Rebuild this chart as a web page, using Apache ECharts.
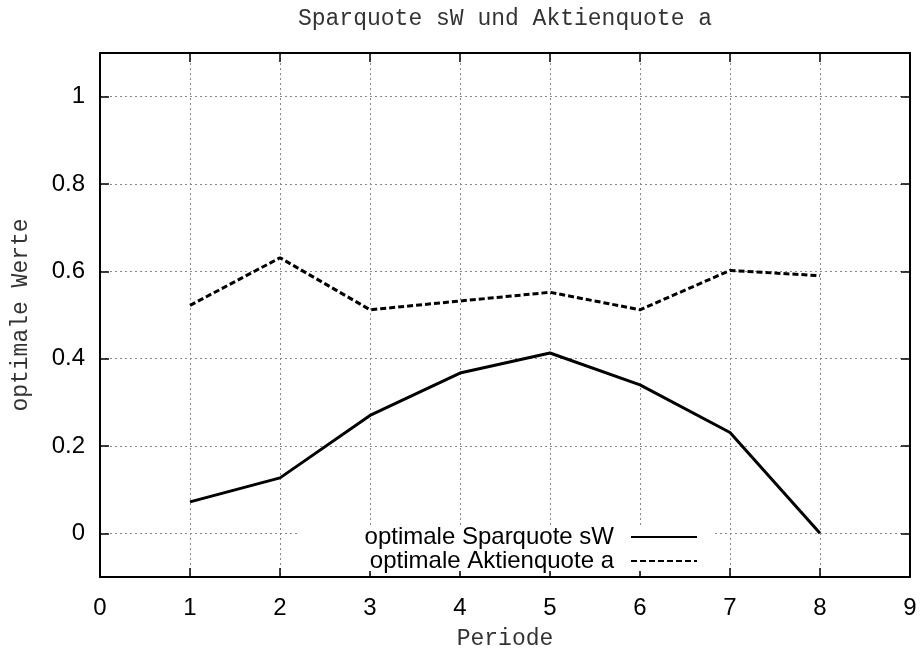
<!DOCTYPE html>
<html>
<head>
<meta charset="utf-8">
<script src="https://cdn.jsdelivr.net/npm/echarts@6/dist/echarts.min.js"></script>
<style>html,body{margin:0;padding:0;background:#fff}#c{width:924px;height:655px}</style>
</head>
<body>
<div id="c"></div>
<script>
var periods = [1, 2, 3, 4, 5, 6, 7, 8];
var sparquote = [0.072, 0.127, 0.27, 0.367, 0.413, 0.34, 0.231, 0.0];
var aktienquote = [0.522, 0.631, 0.512, 0.532, 0.552, 0.512, 0.602, 0.59];
var yTicks = [0, 0.2, 0.4, 0.6, 0.8, 1];
var titleText = 'Sparquote sW und Aktienquote a';
var xName = 'Periode';
var yName = 'optimale Werte';
var nameSW = 'optimale Sparquote sW';
var nameA = 'optimale Aktienquote a';

function pairs(xs, ys) { return xs.map(function (x, i) { return [x, ys[i]]; }); }

var chart = echarts.init(document.getElementById('c'), null, { renderer: 'canvas' });
var mono = 'Liberation Mono';
var sans = 'Liberation Sans';
var gridLine = { show: true, lineStyle: { color: '#888', width: 1, type: [2, 3] } };
var tickStyle = { show: true, inside: true, length: 9, lineStyle: { color: '#000', width: 1.5 } };
var axLine = { show: true, onZero: false, lineStyle: { color: '#000', width: 2 } };
var legendCommon = {
  right: 226, orient: 'vertical', align: 'right', padding: 0,
  itemWidth: 66, itemHeight: 12,
  itemStyle: { opacity: 0 },
  textStyle: { fontFamily: sans, fontSize: 24, color: '#000', padding: [0, 12, 0, 0] }
};

chart.setOption({
  animation: false,
  backgroundColor: '#fff',
  title: {
    text: titleText, left: 505, textAlign: 'center', top: 7, padding: 0,
    textStyle: { fontFamily: mono, fontSize: 23, fontWeight: 'normal', color: '#333' }
  },
  grid: { left: 100, right: 14, top: 53, bottom: 74, containLabel: false },
  xAxis: [{
    type: 'value', min: 0, max: 9, interval: 1, position: 'bottom',
    name: xName, nameLocation: 'middle', nameGap: 50,
    nameTextStyle: { fontFamily: mono, fontSize: 23, color: '#333' },
    axisLine: axLine, axisTick: tickStyle, splitLine: gridLine,
    axisLabel: { fontFamily: sans, fontSize: 24, color: '#000', margin: 19 }
  }, {
    type: 'value', min: 0, max: 9, interval: 1, position: 'top',
    axisLine: axLine, axisTick: tickStyle, splitLine: { show: false },
    axisLabel: { show: false }
  }],
  yAxis: [{
    type: 'value', min: -0.1, max: 1.1, position: 'left',
    name: yName, nameLocation: 'middle', nameGap: 68, nameRotate: 90,
    nameTextStyle: { fontFamily: mono, fontSize: 23, color: '#333' },
    axisLine: axLine,
    axisTick: Object.assign({ customValues: yTicks }, tickStyle),
    splitLine: gridLine,
    axisLabel: { customValues: yTicks, fontFamily: sans, fontSize: 24, color: '#000', margin: 15 }
  }, {
    type: 'value', min: -0.1, max: 1.1, position: 'right',
    axisLine: axLine,
    axisTick: Object.assign({ customValues: yTicks }, tickStyle),
    splitLine: { show: false },
    axisLabel: { show: false }
  }],
  graphic: [{
    type: 'rect', z: 1, silent: true,
    shape: { x: 298, y: 525, width: 414, height: 46 },
    style: { fill: '#fff' }
  }],
  legend: [
    Object.assign({ data: [nameSW], top: 525 }, legendCommon),
    Object.assign({ data: [nameA], top: 549 }, legendCommon)
  ],
  series: [{
    name: nameSW, type: 'line', xAxisIndex: 0, yAxisIndex: 0,
    data: pairs(periods, sparquote), symbol: 'none',
    lineStyle: { color: '#000', width: 3, type: 'solid' }, itemStyle: { color: '#000' }
  }, {
    name: nameA, type: 'line', xAxisIndex: 0, yAxisIndex: 0,
    data: pairs(periods, aktienquote), symbol: 'none',
    lineStyle: { color: '#000', width: 3, type: [6, 3] }, itemStyle: { color: '#000' }
  }]
});
</script>
</body>
</html>
